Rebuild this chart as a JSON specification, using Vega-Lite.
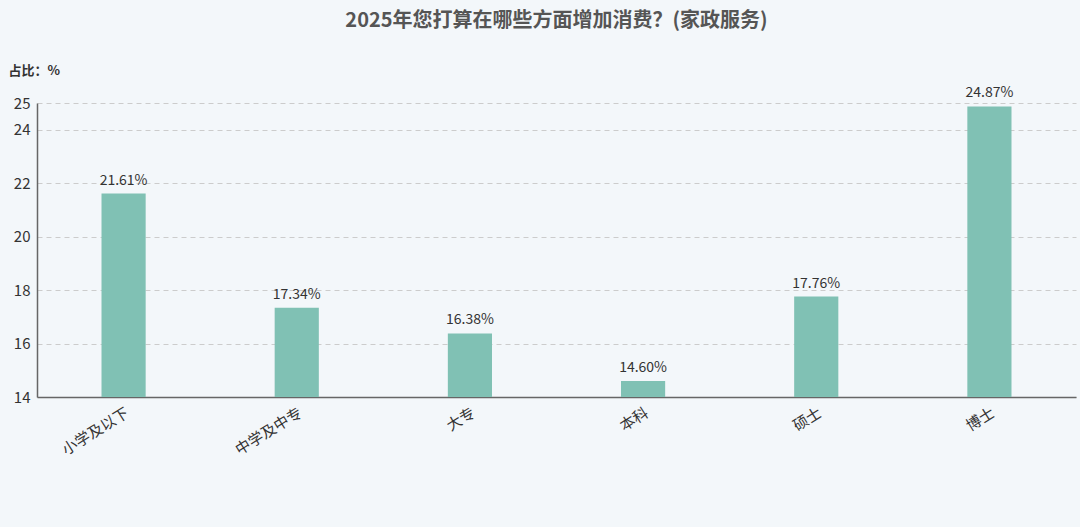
{
  "$schema": "https://vega.github.io/schema/vega-lite/v6.json",
  "width": 1039,
  "height": 294,
  "autosize": {"type": "none"},
  "padding": {"left": 37, "top": 103, "right": 4, "bottom": 130},
  "background": "#f3f7fa",
  "title": {
    "text": "2025年您打算在哪些方面增加消费？(家政服务)",
    "font": "Noto Sans CJK SC",
    "fontSize": 20,
    "fontWeight": "bold",
    "color": "#555555",
    "anchor": "middle",
    "offset": 33
  },
  "config": {
    "view": {"stroke": null},
    "font": "Noto Sans CJK SC"
  },
  "data": {
    "values": [
      {"edu": "小学及以下", "pct": 21.61, "label": "21.61%"},
      {"edu": "中学及中专", "pct": 17.34, "label": "17.34%"},
      {"edu": "大专", "pct": 16.38, "label": "16.38%"},
      {"edu": "本科", "pct": 14.60, "label": "14.60%"},
      {"edu": "硕士", "pct": 17.76, "label": "17.76%"},
      {"edu": "博士", "pct": 24.87, "label": "24.87%"}
    ]
  },
  "encoding": {
    "x": {
      "field": "edu",
      "type": "nominal",
      "sort": null,
      "scale": {"paddingInner": 0.745, "paddingOuter": 0.3725},
      "axis": {
        "title": null,
        "labelAngle": -32,
        "labelAlign": "right",
        "labelBaseline": "top",
        "labelPadding": 8,
        "labelFontSize": 15,
        "labelColor": "#333333",
        "ticks": false,
        "domainColor": "#666666",
        "domainWidth": 1.5,
        "grid": false
      }
    },
    "y": {
      "field": "pct",
      "type": "quantitative",
      "scale": {"domain": [14, 25], "nice": false, "zero": false},
      "axis": {
        "title": "占比：%",
        "titleAngle": 0,
        "titleAlign": "left",
        "titleBaseline": "middle",
        "titleX": -29,
        "titleY": -33,
        "titleFontSize": 13,
        "titleFontWeight": "bold",
        "titleColor": "#333333",
        "values": [14, 16, 18, 20, 22, 24, 25],
        "labelFontSize": 15,
        "labelColor": "#333333",
        "labelPadding": 7,
        "ticks": false,
        "domainColor": "#666666",
        "domainWidth": 1.5,
        "gridColor": "#cccccc",
        "gridDash": [5, 4],
        "gridWidth": 1
      }
    }
  },
  "layer": [
    {
      "mark": {"type": "bar", "color": "#80c1b4", "clip": true}
    },
    {
      "mark": {"type": "text", "dy": -13, "fontSize": 14, "color": "#333333"},
      "encoding": {
        "text": {"field": "label", "type": "nominal"}
      }
    }
  ]
}
